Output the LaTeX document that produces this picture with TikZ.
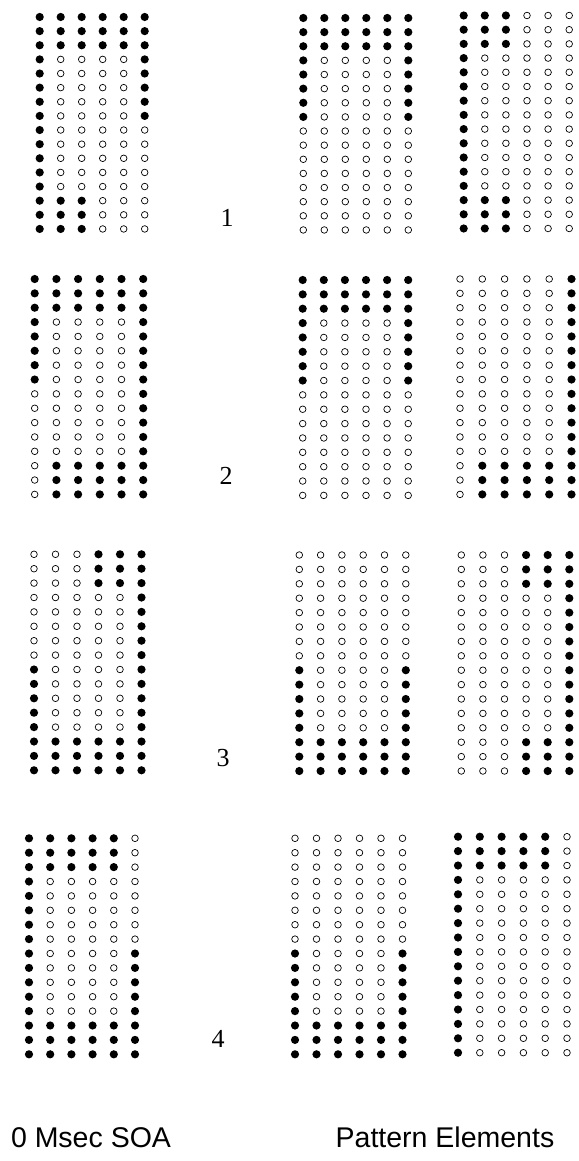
\documentclass[tikz,border=0pt]{standalone}
\usepackage{fontspec}
\setmainfont{Liberation Serif}
\newfontfamily\labelsans{Liberation Sans}
\tikzset{
  dotfill/.style={fill=black},
  dotopen/.style={draw=black,line width=0.7pt},
  numlabel/.style={font=\fontsize{26}{26}\selectfont,inner sep=0pt},
  caplabel/.style={font=\labelsans\fontsize{28.5}{28.5}\selectfont,inner sep=0pt}
}
\newcommand\dgrid[8]{%
  \foreach \r in {0,...,15}{%
    \ifnum\r<3 \def\pat{#5}\else\ifnum\r<8 \def\pat{#6}\else\ifnum\r<13 \def\pat{#7}\else\def\pat{#8}\fi\fi\fi
    \foreach \v [count=\c from 0] in \pat {%
      \ifnum\v=1
        \fill[dotfill] ({#1+\c*#3},{#2+\r*#4}) circle (4.1pt);
      \else
        \draw[dotopen] ({#1+\c*#3},{#2+\r*#4}) circle (3.3pt);
      \fi
    }%
  }%
}
\begin{document}
\begin{tikzpicture}[x=1pt,y=-1pt]
\useasboundingbox (0,0) rectangle (578,1161);
% row 1
\dgrid{39.7}{17}{21}{14.13}{1,1,1,1,1,1}{1,0,0,0,0,1}{1,0,0,0,0,0}{1,1,1,0,0,0}
\dgrid{303.3}{18}{21}{14.13}{1,1,1,1,1,1}{1,0,0,0,0,1}{0,0,0,0,0,0}{0,0,0,0,0,0}
\dgrid{463.7}{15.5}{21.1}{14.2}{1,1,1,0,0,0}{1,0,0,0,0,0}{1,0,0,0,0,0}{1,1,1,0,0,0}
% row 2
\dgrid{34.7}{279}{21.7}{14.36}{1,1,1,1,1,1}{1,0,0,0,0,1}{0,0,0,0,0,1}{0,1,1,1,1,1}
\dgrid{302.7}{280}{21.1}{14.36}{1,1,1,1,1,1}{1,0,0,0,0,1}{0,0,0,0,0,0}{0,0,0,0,0,0}
\dgrid{460}{279}{22.3}{14.36}{0,0,0,0,0,1}{0,0,0,0,0,1}{0,0,0,0,0,1}{0,1,1,1,1,1}
% row 3
\dgrid{34}{554.3}{21.5}{14.4}{0,0,0,1,1,1}{0,0,0,0,0,1}{1,0,0,0,0,1}{1,1,1,1,1,1}
\dgrid{299.3}{555}{21.3}{14.4}{0,0,0,0,0,0}{0,0,0,0,0,0}{1,0,0,0,0,1}{1,1,1,1,1,1}
\dgrid{461.3}{555}{21.6}{14.4}{0,0,0,1,1,1}{0,0,0,0,0,1}{0,0,0,0,0,1}{0,0,0,1,1,1}
% row 4
\dgrid{29}{838.3}{21.2}{14.4}{1,1,1,1,1,0}{1,0,0,0,0,0}{1,0,0,0,0,1}{1,1,1,1,1,1}
\dgrid{295}{838.3}{21.5}{14.4}{0,0,0,0,0,0}{0,0,0,0,0,0}{1,0,0,0,0,1}{1,1,1,1,1,1}
\dgrid{458}{836.7}{21.8}{14.4}{1,1,1,1,1,0}{1,0,0,0,0,0}{1,0,0,0,0,0}{1,0,0,0,0,0}
% labels
\node[numlabel] (n1) at (227,218) {1};
\node[numlabel] (n2) at (226,476) {2};
\node[numlabel] (n3) at (223,758) {3};
\node[numlabel] (n4) at (218,1039) {4};
\node[caplabel] (soa) at (91,1137.5) {0 Msec SOA};
\node[caplabel] (pe) at (445,1137.5) {Pattern Elements};
\end{tikzpicture}
\end{document}
